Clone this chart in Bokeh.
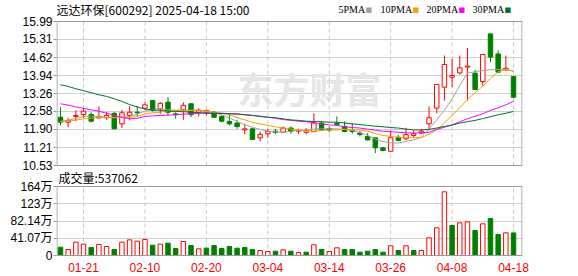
from bokeh.plotting import figure
from bokeh.models import Range1d, FixedTicker, Label, Span, AllLabels
from bokeh.embed import file_html
from bokeh.resources import INLINE

# ---------------- data ----------------
dates = ["01-16", "01-17", "01-20", "01-21", "01-22", "01-23", "01-24", "01-27",
         "02-05", "02-06", "02-07", "02-10", "02-11", "02-12", "02-13", "02-14",
         "02-17", "02-18", "02-19", "02-20", "02-21", "02-24", "02-25", "02-26",
         "02-27", "02-28", "03-03", "03-04", "03-05", "03-06", "03-07", "03-10",
         "03-11", "03-12", "03-13", "03-14", "03-17", "03-18", "03-19", "03-20",
         "03-21", "03-24", "03-25", "03-26", "03-27", "03-28", "03-31", "04-01",
         "04-02", "04-03", "04-07", "04-08", "04-09", "04-10", "04-11", "04-14",
         "04-15", "04-16", "04-17", "04-18"]

opens = [12.36, 12.17, 12.39, 12.46, 12.46, 12.34, 12.34, 12.51, 12.11, 12.43,
         12.55, 12.70, 12.99, 12.68, 12.93, 12.49, 12.64, 12.87, 12.55, 12.55,
         12.55, 12.39, 12.20, 12.14, 11.88, 11.92, 11.58, 11.73, 11.83, 11.79,
         11.95, 11.83, 11.79, 11.82, 12.14, 11.92, 12.13, 12.01, 11.86, 11.76,
         11.63, 11.58, 11.20, 11.07, 11.60, 11.54, 11.67, 11.76, 12.11, 12.71,
         13.50, 13.88, 14.04, 14.26, 14.03, 13.71, 15.52, 14.76, 14.16, 13.90]
highs = [12.74, 12.34, 12.62, 12.70, 12.55, 12.77, 12.55, 12.55, 12.64, 12.78,
         12.78, 12.93, 12.99, 12.93, 13.12, 12.55, 12.93, 12.89, 12.70, 12.64,
         12.59, 12.43, 12.51, 12.26, 12.11, 11.95, 11.82, 11.92, 11.92, 12.01,
         12.01, 11.92, 11.95, 12.51, 12.20, 12.01, 12.39, 12.20, 12.14, 11.83,
         11.76, 11.58, 11.23, 11.86, 11.69, 11.96, 11.86, 11.92, 12.77, 13.60,
         14.70, 14.57, 14.70, 14.99, 14.16, 14.74, 15.52, 14.89, 14.70, 13.90]
lows = [12.05, 11.98, 12.21, 12.34, 12.17, 12.30, 12.26, 11.91, 11.95, 12.24,
        12.39, 12.64, 12.58, 12.49, 12.43, 12.30, 12.26, 12.36, 12.39, 12.43,
        12.34, 12.17, 12.05, 11.92, 11.71, 11.50, 11.45, 11.58, 11.73, 11.77,
        11.73, 11.73, 11.71, 11.79, 11.83, 11.79, 12.02, 11.79, 11.73, 11.63,
        11.48, 11.00, 11.07, 11.04, 11.45, 11.50, 11.58, 11.73, 11.86, 12.51,
        12.99, 13.50, 13.98, 12.99, 13.40, 13.56, 14.45, 14.04, 14.11, 13.08]
closes = [12.17, 12.24, 12.43, 12.59, 12.21, 12.39, 12.43, 11.92, 12.53, 12.55,
          12.53, 12.83, 12.62, 12.89, 12.55, 12.46, 12.81, 12.46, 12.62, 12.62,
          12.36, 12.21, 12.11, 12.01, 11.92, 11.52, 11.71, 11.82, 11.79, 11.95,
          11.83, 11.86, 11.86, 12.14, 11.88, 11.88, 12.08, 11.82, 11.82, 11.71,
          11.50, 11.20, 11.10, 11.58, 11.48, 11.70, 11.73, 11.83, 12.34, 13.60,
          14.36, 13.94, 14.23, 14.30, 13.41, 14.74, 14.64, 14.07, 14.22, 13.12]

ma5 = [12.20, 12.25, 12.31, 12.39, 12.40, 12.39, 12.36, 12.34, 12.35, 12.39,
       12.48, 12.59, 12.65, 12.68, 12.64, 12.63, 12.62, 12.63, 12.64, 12.59,
       12.54, 12.45, 12.34, 12.19, 12.08, 11.98, 11.90, 11.83, 11.81, 11.79,
       11.83, 11.86, 11.87, 11.91, 11.92, 11.92, 11.92, 11.90, 11.86, 11.78,
       11.67, 11.53, 11.44, 11.39, 11.38, 11.45, 11.50, 11.60, 11.92, 12.26,
       12.62, 13.06, 13.56, 14.03, 14.09, 14.13, 14.16, 14.17, 14.17, 14.11]
ma10 = [12.20, 12.21, 12.25, 12.30, 12.32, 12.34, 12.35, 12.36, 12.36, 12.36,
        12.39, 12.49, 12.53, 12.55, 12.59, 12.62, 12.62, 12.62, 12.60, 12.59,
        12.55, 12.51, 12.46, 12.34, 12.26, 12.17, 12.11, 12.05, 12.00, 11.95,
        11.91, 11.87, 11.83, 11.83, 11.86, 11.87, 11.88, 11.90, 11.90, 11.87,
        11.83, 11.73, 11.67, 11.63, 11.60, 11.58, 11.58, 11.59, 11.71, 11.88,
        12.14, 12.43, 12.72, 13.03, 13.29, 13.54, 13.84, 14.08, 14.16, 14.11]
ma20 = [12.87, 12.82, 12.75, 12.70, 12.64, 12.59, 12.51, 12.43, 12.36, 12.30,
        12.32, 12.39, 12.41, 12.43, 12.44, 12.45, 12.48, 12.49, 12.51, 12.53,
        12.51, 12.51, 12.50, 12.49, 12.46, 12.43, 12.40, 12.36, 12.32, 12.27,
        12.24, 12.21, 12.19, 12.15, 12.11, 12.07, 12.05, 12.00, 11.97, 11.95,
        11.91, 11.87, 11.83, 11.81, 11.79, 11.77, 11.76, 11.77, 11.79, 11.90,
        11.98, 12.07, 12.19, 12.30, 12.40, 12.49, 12.62, 12.72, 12.83, 12.96]
ma30 = [13.59, 13.53, 13.44, 13.37, 13.29, 13.21, 13.15, 13.06, 12.96, 12.84,
        12.75, 12.67, 12.64, 12.62, 12.59, 12.58, 12.57, 12.55, 12.53, 12.51,
        12.51, 12.50, 12.49, 12.48, 12.45, 12.43, 12.39, 12.36, 12.34, 12.30,
        12.26, 12.24, 12.21, 12.20, 12.19, 12.17, 12.17, 12.14, 12.11, 12.08,
        12.05, 12.02, 12.00, 11.97, 11.95, 11.91, 11.88, 11.88, 11.90, 11.95,
        12.01, 12.06, 12.14, 12.19, 12.24, 12.31, 12.38, 12.45, 12.51, 12.58]

# volume in 万股
volumes = [19.8, 14.3, 31.7, 27.0, 19.0, 26.2, 21.4, 14.3, 31.7, 37.3,
           34.1, 38.1, 24.6, 27.0, 29.4, 16.7, 33.3, 23.8, 15.9, 17.5,
           23.8, 16.7, 21.4, 17.5, 19.0, 14.3, 11.9, 9.5, 10.3, 13.5,
           10.3, 7.1, 7.9, 25.4, 14.3, 9.5, 18.3, 14.3, 14.3, 7.9,
           10.3, 14.3, 7.9, 23.0, 11.9, 23.0, 11.9, 11.9, 42.1, 65.9,
           151.6, 71.4, 77.8, 80.2, 59.5, 75.4, 88.1, 50.0, 54.0, 53.7062]
vol_up = [0, 1, 1, 1, 0, 1, 1, 0, 1, 1,
          1, 1, 0, 1, 0, 0, 1, 0, 1, 0,
          0, 0, 0, 0, 0, 0, 1, 1, 0, 1,
          0, 1, 0, 1, 0, 1, 1, 0, 0, 0,
          0, 0, 0, 1, 0, 1, 0, 1, 1, 1,
          1, 0, 1, 1, 0, 1, 0, 0, 1, 0]

price_ticks = [10.53, 11.21, 11.90, 12.58, 13.26, 13.94, 14.62, 15.31, 15.99]
vol_ticks = [0, 41.07, 82.14, 123.21, 164.28]
vol_tick_labels = ["0", "41.07万", "82.14万", "123万", "164万"]
date_ticks = ["01-21", "02-10", "02-20", "03-04", "03-14", "03-26", "04-08", "04-18"]
title_text = "远达环保[600292] 2025-04-18 15:00"
ma_names = ["5PMA", "10PMA", "20PMA", "30PMA"]

# ---------------- styles / layout ----------------
RED = "#ff0000"
GREEN = "#008000"
MA_COLORS = ["#a0a0a0", "#f5a300", "#ff00ff", "#006f2f"]
BORDER = "#999999"
GRID = "#d0d0d0"
VGRID = "#c8c8c8"
AXIS_FONT = "Liberation Sans"
CJK_FONT = "Noto Sans CJK SC"

W, H = 578, 276
FL, FR = 56, 522              # frame left / right (px)
P_TOP, P_BOT = 21, 165        # price panel (px)
V_TOP, V_BOT = 186, 255       # volume panel (px)
FB = 262                      # frame bottom (px), below the volume panel so its "0" label fits

idx = list(range(len(dates)))
x_start, x_end = -0.52, 60.17
u = (x_end - x_start) / (FR - FL)          # data units per px (x)
tick_idx = [dates.index(d) for d in date_ticks]

p_lo, p_hi = price_ticks[0], price_ticks[-1]
k = (p_hi - p_lo) / (P_BOT - P_TOP)         # price per px
y0 = p_lo - (FB - P_BOT) * k                # price value at frame bottom
y1 = p_hi + P_TOP * k                       # price value at frame top
v_lo, v_hi = vol_ticks[0], vol_ticks[-1]
kv = (v_hi - v_lo) / (V_BOT - V_TOP)
v_start = v_lo - (FB - V_BOT) * kv
v_end = v_hi + V_TOP * kv


def vol_to_price_coord(v):
    px = V_BOT - (v - v_lo) / kv
    return round(p_hi - (px - P_TOP) * k, 6)


vol_tick_pos = [vol_to_price_coord(v) for v in vol_ticks]
axis_ticks = sorted(vol_tick_pos + price_ticks)
tick_text = {t: "%.2f" % t for t in price_ticks}
tick_text.update({pos: lab for pos, lab in zip(vol_tick_pos, vol_tick_labels)})

up = [c >= o for o, c in zip(opens, closes)]
c_colors = [RED if q else GREEN for q in up]
c_fill = ["#ffffff" if q else GREEN for q in up]
b_top = [max(o, c) for o, c in zip(opens, closes)]
b_bot = [min(o, c) for o, c in zip(opens, closes)]
v_colors = [RED if q else GREEN for q in vol_up]
v_fill = ["#ffffff" if q else GREEN for q in vol_up]

p = figure(width=W, height=H, x_range=Range1d(x_start, x_end), y_range=Range1d(y0, y1),
           output_backend="svg", toolbar_location=None,
           min_border_left=FL, min_border_right=W - FR, min_border_top=0,
           min_border_bottom=H - FB)
p.extra_y_ranges = {"vol": Range1d(v_start, v_end)}
p.outline_line_color = None

# left axis: price ticks for the upper panel, volume ticks for the lower one
ya = p.yaxis[0]
ya.ticker = FixedTicker(ticks=axis_ticks)
ya.major_label_overrides = tick_text
ya.major_label_policy = AllLabels()
ya.axis_line_color = None
ya.major_tick_line_color = BORDER
ya.major_tick_out = 3
ya.major_tick_in = 0
ya.minor_tick_line_color = None
ya.major_label_standoff = 1
ya.major_label_text_font = AXIS_FONT + ", " + CJK_FONT
ya.major_label_text_font_size = "12px"
ya.major_label_text_color = "#000000"
p.ygrid.grid_line_color = GRID

# bottom axis: dates
xa = p.xaxis[0]
xa.ticker = FixedTicker(ticks=tick_idx)
xa.major_label_overrides = {i: d for i, d in zip(tick_idx, date_ticks)}
xa.axis_line_color = None
xa.major_tick_line_color = None
xa.minor_tick_line_color = None
xa.major_tick_out = 0
xa.major_tick_in = 0
xa.major_label_standoff = 0
xa.major_label_text_color = RED
xa.major_label_text_font = AXIS_FONT
xa.major_label_text_font_size = "12px"
p.xgrid.visible = False

# panel borders
for loc in (p_hi, p_lo):
    p.add_layout(Span(location=loc, dimension="width", line_color=BORDER, line_width=1))
for loc in (v_hi, v_lo):
    p.add_layout(Span(location=loc, dimension="width", line_color=BORDER, line_width=1,
                      y_range_name="vol"))
bx = [x_start + 0.5 * u, x_end - 0.5 * u]
p.segment(x0=bx, y0=[p_lo, p_lo], x1=bx, y1=[p_hi, p_hi], line_color=BORDER, line_width=1)
p.segment(x0=bx, y0=[v_lo, v_lo], x1=bx, y1=[v_hi, v_hi], line_color=BORDER, line_width=1,
          y_range_name="vol")

# vertical dashed grid at the labelled dates, in both panels
n = len(tick_idx)
p.segment(x0=tick_idx, y0=[p_lo] * n, x1=tick_idx, y1=[p_hi] * n,
          line_color=VGRID, line_dash="4 3", line_width=1)
p.segment(x0=tick_idx, y0=[v_lo] * n, x1=tick_idx, y1=[v_hi] * n,
          line_color=VGRID, line_dash="4 3", line_width=1, y_range_name="vol")

# watermark
p.add_layout(Label(x=x_start, y=p_hi, x_offset=237 - FL, y_offset=-66,
                   text="东方财富", text_baseline="middle", text_font=CJK_FONT,
                   text_font_size="36px", text_font_style="bold",
                   text_color="#e6e6e6", level="underlay"))

# candles
p.segment(x0=idx, y0=highs, x1=idx, y1=lows, line_color=c_colors, line_width=1)
p.vbar(x=idx, width=0.58, top=b_top, bottom=b_bot, fill_color=c_fill,
       line_color=c_colors, line_width=1)
for series, col in zip([ma5, ma10, ma20, ma30], MA_COLORS):
    p.line(idx, series, line_color=col, line_width=1)

# volume bars
p.vbar(x=idx, width=0.58, top=volumes, bottom=0, fill_color=v_fill,
       line_color=v_colors, line_width=1, y_range_name="vol")

# header texts
p.add_layout(Label(x=x_start, y=p_hi, x_offset=0, y_offset=12,
                   text=title_text, text_baseline="middle", text_font=CJK_FONT,
                   text_font_size="12px", text_color="#000000"))
leg_text_px = [338, 380, 426, 472]
leg_sw_px = [365, 412, 458, 504]
for name, col, tx, sx in zip(ma_names, MA_COLORS, leg_text_px, leg_sw_px):
    p.add_layout(Label(x=x_start, y=p_hi, x_offset=tx - FL, y_offset=12,
                       text=name, text_baseline="middle", text_font="Liberation Serif",
                       text_font_size="10px", text_color="#000000"))
    p.add_layout(Label(x=x_start, y=p_hi, x_offset=sx - FL, y_offset=12,
                       text="■", text_baseline="middle", text_font="DejaVu Sans",
                       text_font_size="7px", text_color=col))
p.add_layout(Label(x=x_start, y=v_hi, y_range_name="vol", x_offset=2, y_offset=9,
                   text="成交量:%d" % round(volumes[-1] * 10000), text_baseline="middle",
                   text_font=CJK_FONT, text_font_size="12px", text_color="#000000"))

open("out.html", "w").write(file_html(p, INLINE))
